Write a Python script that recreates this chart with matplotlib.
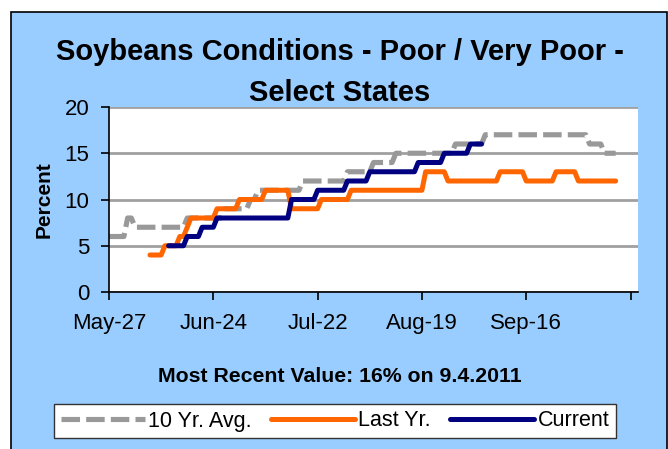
import numpy as np
import pandas as pd
import matplotlib
matplotlib.use('Agg')
import matplotlib.pyplot as plt
from matplotlib.patches import Rectangle

plt.rcParams['font.family'] = ['Liberation Sans', 'DejaVu Sans']

start_date = '2011-05-27'

# day (counted from May-27) on which each reading starts, and the reading
avg_days = [0, 5, 7, 21, 31, 38, 40, 52, 64, 71, 77, 93, 101, 129, 133]
avg_vals = [6, 8, 7, 8, 9, 10, 11, 12, 13, 14, 15, 16, 17, 16, 15]
avg_end = 136

last_days = [11, 15, 19, 21, 22, 29, 35, 42, 49, 57, 65, 85, 91, 105, 112, 120, 126]
last_vals = [4, 5, 6, 7, 8, 9, 10, 11, 9, 10, 11, 13, 12, 13, 12, 13, 12]
last_end = 136

cur_days = [16, 21, 25, 29, 49, 56, 64, 70, 83, 90, 97]
cur_vals = [5, 6, 7, 8, 10, 11, 12, 13, 14, 15, 16]
cur_end = 100

tick_labels = ['May-27', 'Jun-24', 'Jul-22', 'Aug-19', 'Sep-16', '']


def daily(days, vals, end):
    # hold each reading until the next one, one point per day
    lengths = np.diff(days + [end + 1])
    d = np.arange(days[0], end + 1)
    v = np.repeat(vals, lengths)
    dates = pd.Timestamp(start_date) + pd.to_timedelta(d, unit='D')
    return dates, v


fig = plt.figure(figsize=(6.68, 4.49), dpi=100, facecolor='white')
fig.patches.append(Rectangle((11 / 668, -0.05), 656 / 668, 1 - 12 / 449 + 0.05,
                             transform=fig.transFigure, facecolor='#99CCFF',
                             edgecolor='black', linewidth=1.2, zorder=-10))

ax = fig.add_axes([109 / 668, 1 - 292 / 449, 529 / 668, 185 / 449])
ax.set_facecolor('white')

x, y = daily(avg_days, avg_vals, avg_end)
ax.plot(x, y, color='#999999', linewidth=3.7, dashes=[3.6, 1.2],
        dash_capstyle='butt', label='10 Yr. Avg.', zorder=3)
x, y = daily(last_days, last_vals, last_end)
ax.plot(x, y, color='#FF6600', linewidth=3.6, solid_capstyle='round',
        solid_joinstyle='round', label='Last Yr.', zorder=4)
x, y = daily(cur_days, cur_vals, cur_end)
ax.plot(x, y, color='#000080', linewidth=3.6, solid_capstyle='round',
        solid_joinstyle='round', label='Current', zorder=5)

ticks = pd.date_range(start_date, periods=6, freq='28D')
ax.set_xticks(ticks)
ax.set_xticklabels(tick_labels)
ax.set_xlim(pd.Timestamp(start_date), pd.Timestamp(start_date) + pd.Timedelta(days=142))
ax.set_ylim(0, 20)
ax.set_yticks([0, 5, 10, 15, 20])

ax.grid(axis='y', color='#A0A0A0', linewidth=2)
ax.set_axisbelow(True)
for s in ['top', 'right']:
    ax.spines[s].set_visible(False)
for s in ['left', 'bottom']:
    ax.spines[s].set_color('black')
    ax.spines[s].set_linewidth(1.2)
    ax.spines[s].set_zorder(6)
ax.tick_params(axis='both', direction='out', length=6, width=1.2, labelsize=16, pad=9)
ax.tick_params(axis='y', pad=8)

ax.set_ylabel('Percent', fontsize=15, fontweight='bold', labelpad=8)

fig.text(340 / 668, 1 - 52 / 449, 'Soybeans Conditions - Poor / Very Poor -',
         ha='center', va='center', fontsize=21, fontweight='bold')
fig.text(340 / 668, 1 - 93 / 449, 'Select States',
         ha='center', va='center', fontsize=21, fontweight='bold')
fig.text(340 / 668, 1 - 377 / 449, 'Most Recent Value: 16% on 9.4.2011',
         ha='center', va='center', fontsize=15.3, fontweight='bold')

leg = fig.legend(loc='center', bbox_to_anchor=(335 / 668, 1 - 421 / 449), ncol=3,
                 fontsize=15.5, handlelength=3.9, handletextpad=0.15, columnspacing=0.9,
                 fancybox=False, edgecolor='#333333', framealpha=1, borderpad=0.3,
                 borderaxespad=0)
leg.get_frame().set_linewidth(1.0)

fig.savefig('out.png', dpi=100, facecolor=fig.get_facecolor())
